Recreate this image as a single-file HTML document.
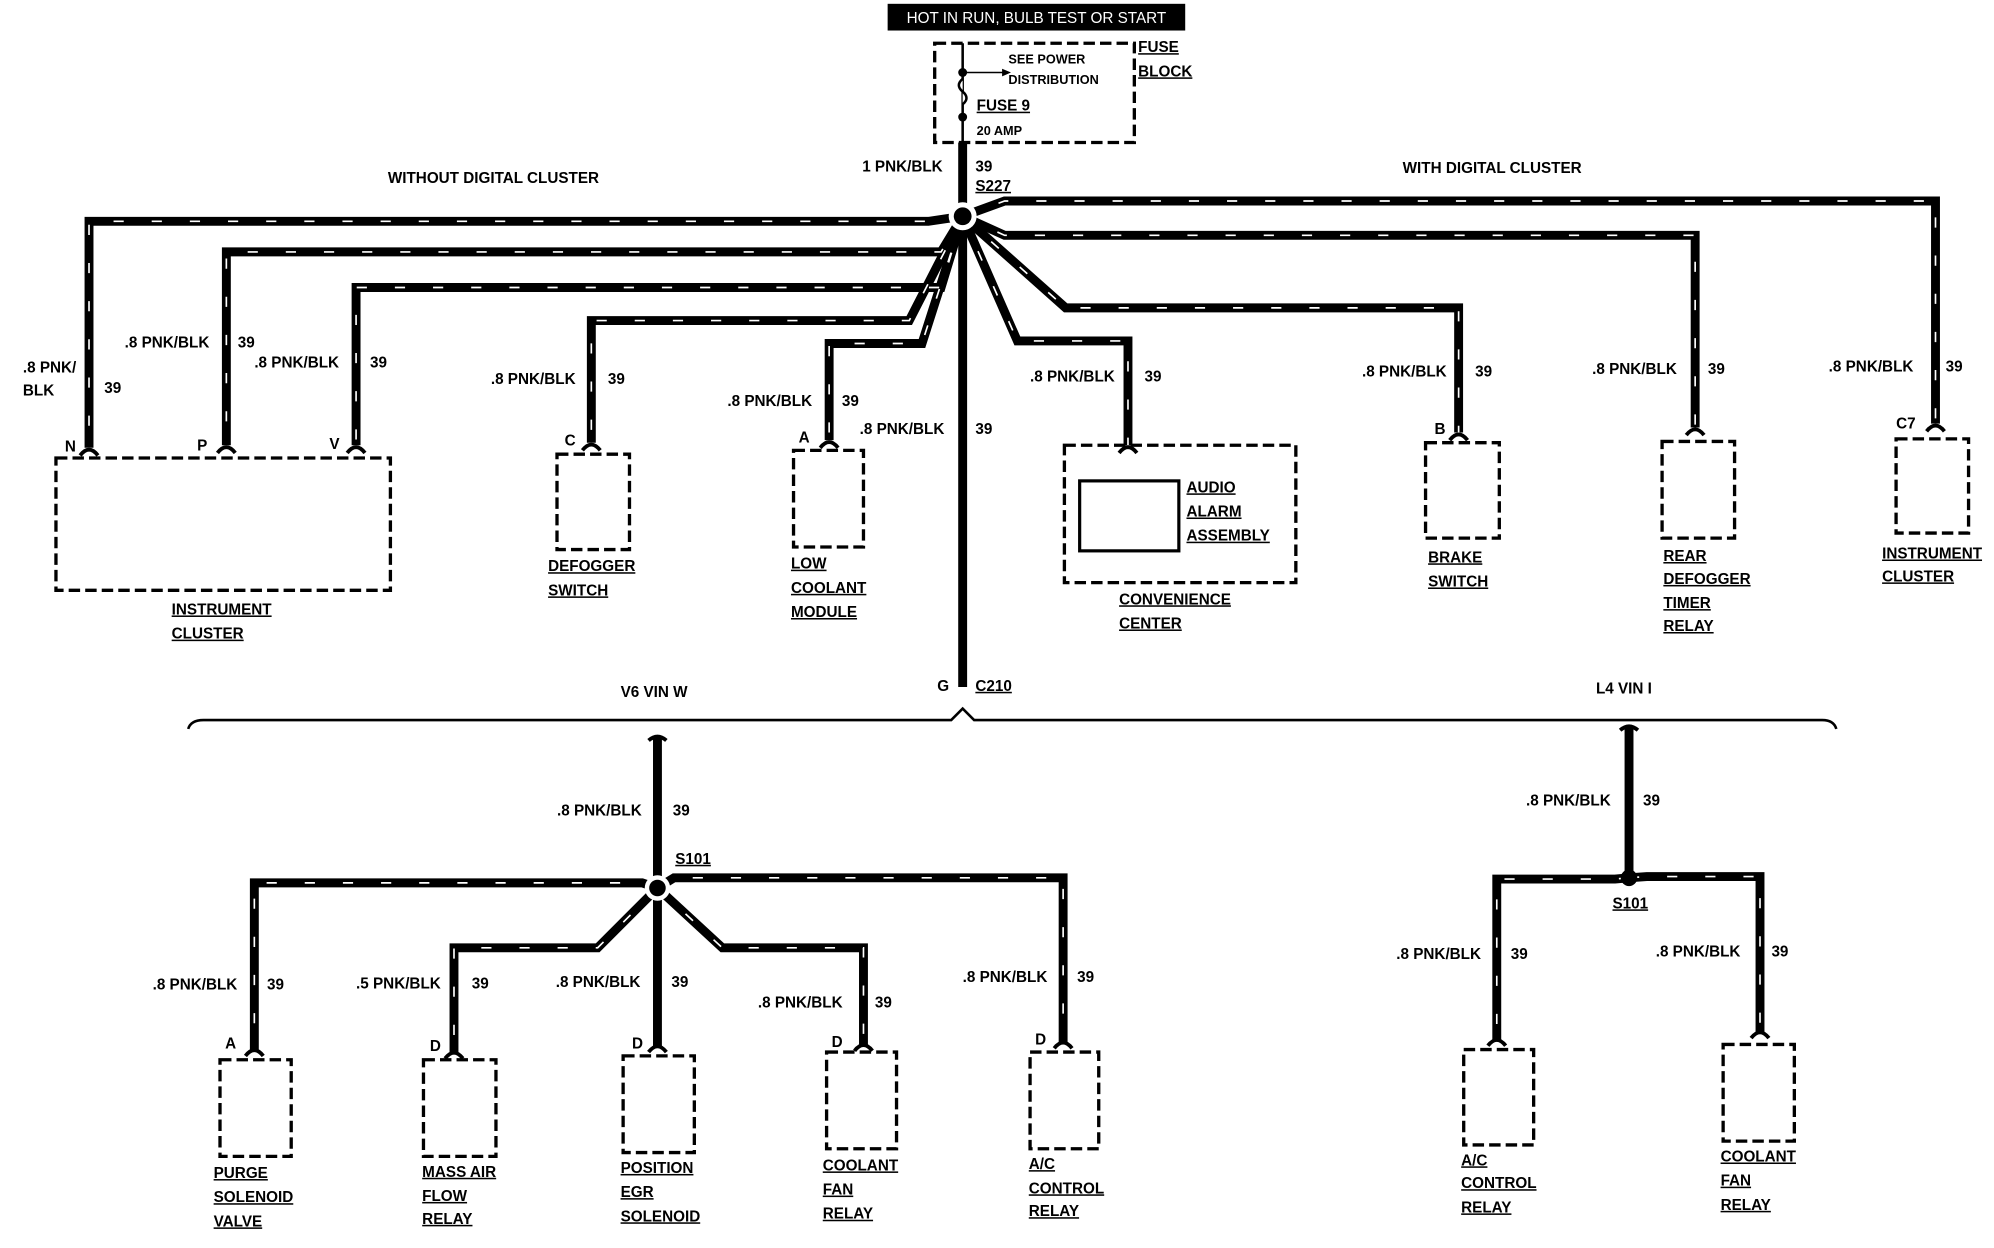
<!DOCTYPE html>
<html><head><meta charset="utf-8"><style>
html,body{margin:0;padding:0;background:#fff;}
svg{display:block}
text{font-family:"Liberation Sans",sans-serif;font-weight:bold;font-size:12px;fill:#000}
.u{text-decoration:underline}
.w{fill:none;stroke:#000;stroke-width:7;stroke-linejoin:miter}
.d{fill:none;stroke:#fff;stroke-width:1.3;stroke-dasharray:8 22}
.b{fill:none;stroke:#000;stroke-width:2.6;stroke-dasharray:9 4}
.t{fill:none;stroke:#000;stroke-width:3}
</style></head><body>
<svg width="1994" height="1248" viewBox="0 0 1568 981" preserveAspectRatio="none">
<defs>
<path id="w1" d="M757 112 V170"/>
<path id="w2" d="M757 170 L730 174 H70 V352"/>
<path id="w3" d="M757 170 L740 198 H178 V350"/>
<path id="w4" d="M757 170 L740 226 H280 V350"/>
<path id="w5" d="M757 170 L715 252 H465 V348"/>
<path id="w6" d="M757 170 L725 270 H652 V346"/>
<path id="w7" d="M757 170 V540"/>
<path id="w8" d="M757 170 L790 158 H1522 V333"/>
<path id="w9" d="M757 170 L790 185 H1333 V336"/>
<path id="w10" d="M757 170 L838 242 H1147 V340"/>
<path id="w11" d="M757 170 L800 268 H887 V350"/>
<path id="b1" d="M517 580 V698"/>
<path id="b2" d="M517 698 L505 694 H200 V826"/>
<path id="b3" d="M517 698 L530 690 H836 V820"/>
<path id="b4" d="M517 698 L470 745 H357 V828"/>
<path id="b5" d="M517 698 V823"/>
<path id="b6" d="M517 698 L568 745 H679 V822"/>
<path id="c1" d="M1281 572 V690"/>
<path id="c2" d="M1281 690 L1270 691 H1177 V818"/>
<path id="c3" d="M1281 690 L1295 689 H1384 V812"/>
</defs>
<rect x="698" y="3" width="234" height="21" fill="#000"/>
<text x="815" y="18" text-anchor="middle" style="fill:#fff;font-weight:normal;font-size:12px">HOT IN RUN, BULB TEST OR START</text>
<rect x="735" y="34" width="157" height="78" class="b"/>
<path d="M757 34 V112" stroke="#000" stroke-width="2" fill="none"/>
<path d="M757 57 H790" stroke="#000" stroke-width="1.2"/><path d="M788 54 L795 57 L788 60Z"/>
<circle cx="757" cy="57" r="3.5"/><circle cx="757" cy="92" r="3.5"/>
<path d="M757 62 q-6 5 0 10 q6 5 0 10" fill="#fff" stroke="#000" stroke-width="2"/>
<text x="793" y="50" style="font-size:10px">SEE POWER</text>
<text x="793" y="66" style="font-size:10px">DISTRIBUTION</text>
<text x="768" y="87" class="u">FUSE 9</text>
<text x="768" y="106" style="font-size:10px">20 AMP</text>
<text x="895" y="41" class="u">FUSE</text>
<text x="895" y="60" class="u">BLOCK</text>
<text x="678" y="135">1 PNK/BLK</text><text x="767" y="135">39</text>
<text x="767" y="150" class="u">S227</text>
<text x="305" y="144">WITHOUT DIGITAL CLUSTER</text>
<text x="1103" y="136">WITH DIGITAL CLUSTER</text>

<g class="w"><use href="#w1"/><use href="#w2"/><use href="#w3"/><use href="#w4"/><use href="#w5"/><use href="#w6"/><use href="#w7"/><use href="#w8"/><use href="#w9"/><use href="#w10"/><use href="#w11"/></g>
<g class="d"><use href="#w2"/><use href="#w3"/><use href="#w4"/><use href="#w5"/><use href="#w6"/><use href="#w8"/><use href="#w9"/><use href="#w10"/><use href="#w11"/></g>
<circle cx="757" cy="170" r="11" fill="#fff"/><circle cx="757" cy="170" r="7"/>

<g class="t">
<path d="M63 358 Q70 349 77 358"/><path d="M171 356 Q178 347 185 356"/><path d="M273 356 Q280 347 287 356"/>
<path d="M458 354 Q465 345 472 354"/><path d="M645 352 Q652 343 659 352"/><path d="M880 356 Q887 347 894 356"/>
<path d="M1140 346 Q1147 337 1154 346"/><path d="M1326 342 Q1333 333 1340 342"/><path d="M1515 339 Q1522 330 1529 339"/>
</g>
<text x="51" y="355">N</text><text x="155" y="354">P</text><text x="259" y="353">V</text>
<text x="444" y="350">C</text><text x="628" y="348">A</text><text x="1128" y="341">B</text><text x="1491" y="337">C7</text>

<text x="18" y="293">.8 PNK/</text><text x="18" y="311">BLK</text><text x="82" y="309">39</text>
<text x="98" y="273">.8 PNK/BLK</text><text x="187" y="273">39</text>
<text x="200" y="289">.8 PNK/BLK</text><text x="291" y="289">39</text>
<text x="386" y="302">.8 PNK/BLK</text><text x="478" y="302">39</text>
<text x="572" y="319">.8 PNK/BLK</text><text x="662" y="319">39</text>
<text x="676" y="341">.8 PNK/BLK</text><text x="767" y="341">39</text>
<text x="810" y="300">.8 PNK/BLK</text><text x="900" y="300">39</text>
<text x="1071" y="296">.8 PNK/BLK</text><text x="1160" y="296">39</text>
<text x="1252" y="294">.8 PNK/BLK</text><text x="1343" y="294">39</text>
<text x="1438" y="292">.8 PNK/BLK</text><text x="1530" y="292">39</text>

<rect x="44" y="360" width="263" height="104" class="b"/>
<rect x="438" y="357" width="57" height="75" class="b"/>
<rect x="624" y="354" width="55" height="76" class="b"/>
<rect x="837" y="350" width="182" height="108" class="b"/>
<rect x="849" y="378" width="78" height="55" fill="none" stroke="#000" stroke-width="2.5"/>
<rect x="1121" y="348" width="58" height="75" class="b"/>
<rect x="1307" y="347" width="57" height="76" class="b"/>
<rect x="1491" y="345" width="57" height="74" class="b"/>

<text x="135" y="483" class="u">INSTRUMENT</text><text x="135" y="502" class="u">CLUSTER</text>
<text x="431" y="449" class="u">DEFOGGER</text><text x="431" y="468" class="u">SWITCH</text>
<text x="622" y="447" class="u">LOW</text><text x="622" y="466" class="u">COOLANT</text><text x="622" y="485" class="u">MODULE</text>
<text x="933" y="387" class="u">AUDIO</text><text x="933" y="406" class="u">ALARM</text><text x="933" y="425" class="u">ASSEMBLY</text>
<text x="880" y="475" class="u">CONVENIENCE</text><text x="880" y="494" class="u">CENTER</text>
<text x="1123" y="442" class="u">BRAKE</text><text x="1123" y="461" class="u">SWITCH</text>
<text x="1308" y="441" class="u">REAR</text><text x="1308" y="459" class="u">DEFOGGER</text><text x="1308" y="478" class="u">TIMER</text><text x="1308" y="496" class="u">RELAY</text>
<text x="1480" y="439" class="u">INSTRUMENT</text><text x="1480" y="457" class="u">CLUSTER</text>

<text x="737" y="543">G</text><text x="767" y="543" class="u">C210</text>
<text x="488" y="548">V6 VIN W</text><text x="1255" y="545">L4 VIN I</text>
<path d="M148 573 Q150 566 160 566 H748 L757 557 L766 566 H1433 Q1442 566 1444 573" fill="none" stroke="#000" stroke-width="2"/>

<g class="w"><use href="#b1"/><use href="#b2"/><use href="#b3"/><use href="#b4"/><use href="#b5"/><use href="#b6"/><use href="#c1"/><use href="#c2"/><use href="#c3"/></g>
<g class="d"><use href="#b2"/><use href="#b3"/><use href="#b4"/><use href="#b6"/><use href="#c2"/><use href="#c3"/></g>
<circle cx="517" cy="698" r="10" fill="#fff"/><circle cx="517" cy="698" r="6.5"/>
<circle cx="1281" cy="690" r="6.5"/>
<g class="t">
<path d="M510 582 Q517 576 524 582"/><path d="M1274 574 Q1281 568 1288 574"/>
<path d="M193 830 Q200 821 207 830"/><path d="M350 832 Q357 823 364 832"/><path d="M510 827 Q517 818 524 827"/>
<path d="M672 826 Q679 817 686 826"/><path d="M829 824 Q836 815 843 824"/><path d="M1170 822 Q1177 813 1184 822"/><path d="M1377 816 Q1384 807 1391 816"/>
</g>
<text x="531" y="679" class="u">S101</text><text x="1268" y="714" class="u">S101</text>
<text x="177" y="824">A</text><text x="338" y="826">D</text><text x="497" y="824">D</text><text x="654" y="823">D</text><text x="814" y="821">D</text>

<text x="438" y="641">.8 PNK/BLK</text><text x="529" y="641">39</text>
<text x="1200" y="633">.8 PNK/BLK</text><text x="1292" y="633">39</text>
<text x="120" y="778">.8 PNK/BLK</text><text x="210" y="778">39</text>
<text x="280" y="777">.5 PNK/BLK</text><text x="371" y="777">39</text>
<text x="437" y="776">.8 PNK/BLK</text><text x="528" y="776">39</text>
<text x="596" y="792">.8 PNK/BLK</text><text x="688" y="792">39</text>
<text x="757" y="772">.8 PNK/BLK</text><text x="847" y="772">39</text>
<text x="1098" y="754">.8 PNK/BLK</text><text x="1188" y="754">39</text>
<text x="1302" y="752">.8 PNK/BLK</text><text x="1393" y="752">39</text>

<rect x="173" y="833" width="56" height="76" class="b"/>
<rect x="333" y="833" width="57" height="76" class="b"/>
<rect x="490" y="830" width="56" height="76" class="b"/>
<rect x="650" y="827" width="55" height="76" class="b"/>
<rect x="810" y="827" width="54" height="76" class="b"/>
<rect x="1151" y="825" width="55" height="75" class="b"/>
<rect x="1355" y="821" width="56" height="76" class="b"/>

<text x="168" y="926" class="u">PURGE</text><text x="168" y="945" class="u">SOLENOID</text><text x="168" y="964" class="u">VALVE</text>
<text x="332" y="925" class="u">MASS AIR</text><text x="332" y="944" class="u">FLOW</text><text x="332" y="962" class="u">RELAY</text>
<text x="488" y="922" class="u">POSITION</text><text x="488" y="941" class="u">EGR</text><text x="488" y="960" class="u">SOLENOID</text>
<text x="647" y="920" class="u">COOLANT</text><text x="647" y="939" class="u">FAN</text><text x="647" y="958" class="u">RELAY</text>
<text x="809" y="919" class="u">A/C</text><text x="809" y="938" class="u">CONTROL</text><text x="809" y="956" class="u">RELAY</text>
<text x="1149" y="916" class="u">A/C</text><text x="1149" y="934" class="u">CONTROL</text><text x="1149" y="953" class="u">RELAY</text>
<text x="1353" y="913" class="u">COOLANT</text><text x="1353" y="932" class="u">FAN</text><text x="1353" y="951" class="u">RELAY</text>
</svg>
</body></html>
